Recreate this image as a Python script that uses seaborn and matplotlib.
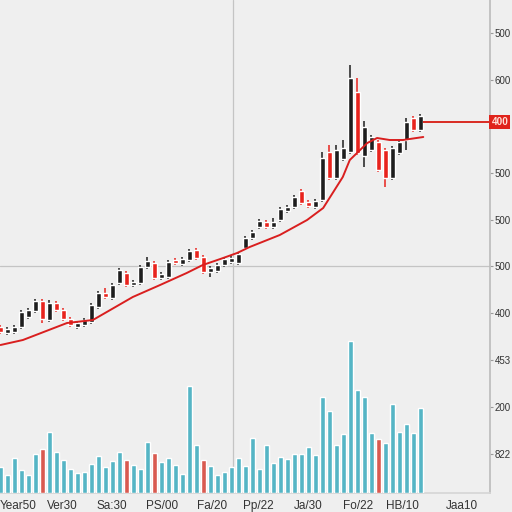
import numpy as np
import pandas as pd
import seaborn as sns
import matplotlib.pyplot as plt
from matplotlib.transforms import blended_transform_factory

# ---- data ----
opens = [373, 367, 368, 373, 383, 389, 399, 380, 397, 390, 381, 373, 375, 378, 393, 407,
         402, 417, 427, 415, 417, 433, 437, 422, 423, 440, 436, 440, 450, 443, 428, 429,
         435, 438, 437, 452, 462, 473, 478, 473, 480, 489, 493, 509, 498, 493, 500, 548,
         522, 541, 548, 608, 544, 550, 558, 550, 522, 547, 560, 582, 570]
highs = [375, 373, 375, 390, 392, 401, 401, 400, 399, 392, 383, 379, 382, 397, 409, 412,
         417, 432, 429, 420, 435, 443, 439, 428, 440, 442, 443, 451, 452, 445, 434, 437,
         443, 444, 448, 464, 470, 481, 480, 482, 493, 495, 505, 511, 500, 501, 548, 555,
         555, 560, 635, 622, 579, 565, 560, 552, 554, 560, 582, 584, 586]
lows = [366, 365, 366, 371, 381, 387, 377, 378, 388, 379, 373, 371, 373, 376, 391, 401,
        400, 415, 413, 413, 415, 431, 420, 420, 421, 435, 434, 438, 440, 426, 423, 427,
        433, 436, 435, 450, 460, 471, 471, 471, 478, 487, 491, 495, 492, 491, 498, 520,
        520, 539, 546, 545, 533, 548, 528, 513, 520, 545, 550, 568, 568]
closes = [368, 371, 373, 388, 390, 399, 381, 397, 390, 381, 375, 377, 380, 395, 407, 403,
          415, 430, 415, 418, 433, 439, 422, 426, 438, 437, 441, 449, 442, 428, 432, 435,
          441, 442, 446, 462, 468, 479, 473, 478, 491, 493, 503, 497, 494, 499, 542, 522,
          550, 552, 622, 547, 573, 563, 530, 522, 552, 558, 578, 570, 584]
volumes = [650, 450, 875, 575, 450, 975, 1100, 1525, 1025, 825, 600, 500, 525, 725, 925, 650,
           800, 1025, 825, 700, 600, 1275, 1000, 775, 875, 700, 475, 2675, 1200, 825, 675, 450,
           525, 650, 875, 675, 1375, 600, 1200, 750, 900, 850, 975, 975, 1150, 950, 2400, 2050,
           1200, 1475, 3800, 2575, 2400, 1500, 1350, 1250, 2225, 1525, 1725, 1500, 2125]
vol_red = [6, 18, 22, 29, 54]

ma_idx = [0, 3.2, 9.5, 13.2, 18.9, 22.8, 26.6, 28.9, 31.4, 33.8, 35.6, 39.9, 43.8, 46.1,
          48.9, 49.9, 52.4, 53.8, 55.6, 57.5, 60.4]
ma_val = [355, 360, 377, 380, 403, 415, 427, 435, 441, 447, 453, 465, 480, 492,
          523, 540, 557, 562, 560, 560, 563]

last_price = 578
last_label = "400"

xtick_pos = [-0.07, 8.9, 15.9, 23.1, 30.2, 36.9, 43.9, 51.1, 57.4, 65.9]
xtick_labels = ["Year50", "Ver30", "Sa:30", "PS/00", "Fa/20", "Pp/22", "Ja/30", "Fo/22",
                "HB/10", "Jaa10"]
xsep_pos = [5.45, 12.4, 19.5, 26.6, 33.5, 40.4, 47.5, 54.2, 61.6]

ytick_pos = [667, 620, 527, 480, 434, 387, 340, 293, 246]
ytick_labels = ["500", "600", "500", "500", "500", "400", "453", "200", "822"]

# ---- style ----
bg = '#efefef'
up_col = '#1e1e1e'
down_col = '#e8231d'
sns.set_theme(style="white")
plt.rcParams['font.family'] = ['Liberation Sans', 'DejaVu Sans']

fig = plt.figure(figsize=(5.12, 5.12), dpi=100, facecolor=bg)
ax = fig.add_axes([0, 19 / 512, 490 / 512, 493 / 512])
ax.set_facecolor(bg)
ax2 = ax.twinx()

# volume bars (seaborn)
n = len(opens)
idx = np.arange(n)
vol_df = pd.DataFrame({
    'i': idx,
    'vol': volumes,
    'kind': ['red' if i in vol_red else 'teal' for i in idx],
})
sns.barplot(data=vol_df, x='i', y='vol', hue='kind', native_scale=True,
            palette={'teal': '#55b5c5', 'red': '#d95a50'}, dodge=False,
            width=0.72, legend=False, ax=ax2, saturation=1)
ax2.set_ylim(0, 493 * 25)
ax2.set_yticks([])
ax2.set_ylabel('')
for s in ax2.spines.values():
    s.set_visible(False)

# reference lines
ax.axhline(434, color='#c4c4c4', lw=0.9, zorder=1)
ax.axvline(33.2, color='#c4c4c4', lw=0.9, zorder=1)

# candles
o = np.array(opens)
c = np.array(closes)
colors = np.where(c >= o, up_col, down_col)
ax.vlines(idx, lows, highs, colors=colors, lw=1.1, zorder=3)
ax.bar(idx, np.maximum(np.abs(c - o), 1.5), bottom=np.minimum(o, c), width=0.85,
       color=colors, zorder=4)

# moving average line
sns.lineplot(x=ma_idx, y=ma_val, ax=ax, color='#d91f1f', lw=1.4, zorder=5)

# last price line + label
xmax = 69.93
ax.hlines(last_price, n - 0.6, xmax, color='#d92a22', lw=1.4, zorder=5)
tr = blended_transform_factory(ax.transAxes, ax.transData)
ax.text(1.003, last_price, last_label, transform=tr, ha='left', va='center',
        fontsize=7.2, color='#ffe0d8', fontweight='bold', clip_on=False,
        bbox=dict(boxstyle='square,pad=0.2', fc='#e0231b', ec='none'))

ax.set_xlim(-0.07, xmax)
ax.set_ylim(207, 700)

# axes / ticks
ax.yaxis.tick_right()
ax.set_yticks(ytick_pos)
ax.set_yticklabels(ytick_labels)
ax.tick_params(axis='y', length=2.5, width=0.8, pad=1, labelsize=7,
               colors='#9a9a9a', labelcolor='#333333')
ax.set_xticks(xtick_pos)
ax.set_xticklabels(xtick_labels)
ax.get_xticklabels()[0].set_ha('left')
ax.set_xticks(xsep_pos, minor=True)
ax.tick_params(axis='x', which='major', length=0, pad=5, labelsize=8.5,
               labelcolor='#333333')
ax.tick_params(axis='x', which='minor', length=14, width=0.8, color='#d2d2d2',
               direction='out')
ax.set_xlabel('')
ax.set_ylabel('')
ax.spines['top'].set_visible(False)
ax.spines['left'].set_visible(False)
ax.spines['right'].set_color('#bdbdbd')
ax.spines['bottom'].set_color('#d6d6d6')

fig.savefig('out.png', dpi=100, facecolor=bg)
